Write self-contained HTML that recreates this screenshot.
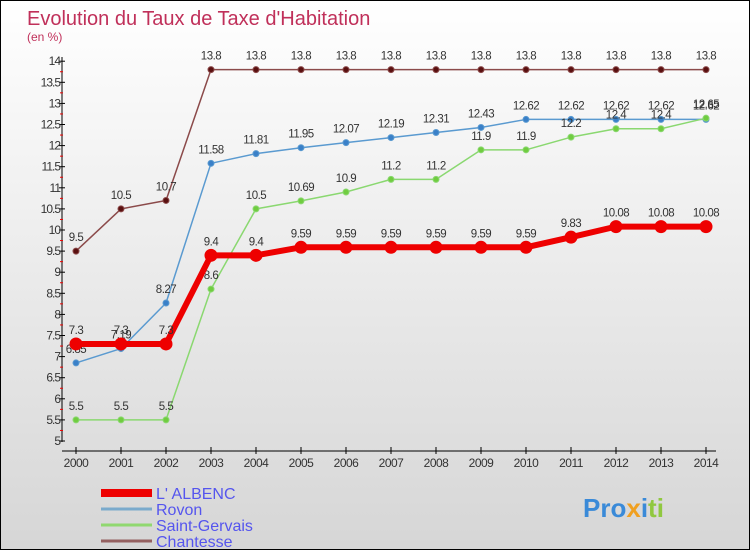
<!DOCTYPE html>
<html><head><meta charset="utf-8"><style>
body{margin:0}
#wrap{width:750px;height:550px;position:relative;box-sizing:border-box;border:1px solid #000;background:linear-gradient(#ffffff,#d6d6d6);font-family:"Liberation Sans",sans-serif;overflow:hidden}
svg{position:absolute;left:0;top:0}
</style></head><body>
<div id="wrap">
<svg id="s" width="750" height="550">
<text x="26" y="24" font-size="20" fill="#c0305a">Evolution du Taux de Taxe d'Habitation</text>
<text x="26" y="40" font-size="12" fill="#c0305a">(en %)</text>
</svg>
</div>
<script>
const years=[2000,2001,2002,2003,2004,2005,2006,2007,2008,2009,2010,2011,2012,2013,2014];
const albenc=[7.3,7.3,7.3,9.4,9.4,9.59,9.59,9.59,9.59,9.59,9.59,9.83,10.08,10.08,10.08];
const rovon=[6.85,7.19,8.27,11.58,11.81,11.95,12.07,12.19,12.31,12.43,12.62,12.62,12.62,12.62,12.62];
const gervais=[5.5,5.5,5.5,8.6,10.5,10.69,10.9,11.2,11.2,11.9,11.9,12.2,12.4,12.4,12.65];
const chantesse=[9.5,10.5,10.7,13.8,13.8,13.8,13.8,13.8,13.8,13.8,13.8,13.8,13.8,13.8,13.8];
const yTicks=[5,5.5,6,6.5,7,7.5,8,8.5,9,9.5,10,10.5,11,11.5,12,12.5,13,13.5,14];
const seriesNames=["L' ALBENC","Rovon","Saint-Gervais","Chantesse"];
const NS="http://www.w3.org/2000/svg",s=document.getElementById('s');
const xS=i=>75+i*45, yS=v=>440-(v-5)*42.2;
function mk(t,a,p){const e=document.createElementNS(NS,t);for(const k in a)e.setAttribute(k,a[k]);(p||s).appendChild(e);return e;}
let e;
e=mk('line',{x1:61,y1:56,x2:61,y2:441,stroke:'#000','stroke-width':1});


e=mk('line',{x1:61,y1:450,x2:715,y2:450,stroke:'#000','stroke-width':1});


yTicks.forEach((v,i)=>{
 mk('line',{x1:58,x2:64,y1:yS(v),y2:yS(v),stroke:'#000'});
 if(i<yTicks.length-1)mk('line',{x1:59,x2:62,y1:yS(v+0.25),y2:yS(v+0.25),stroke:'#e00'});
 e=mk('text',{x:59,y:yS(v)+4,'text-anchor':'end','font-size':12,fill:'#333','letter-spacing':'-1'});
 e.textContent=String(v);
 
 
});
years.forEach((y,i)=>{
 mk('line',{x1:xS(i),x2:xS(i),y1:446,y2:453,stroke:'#000'});
 e=mk('text',{x:xS(i),y:466,'text-anchor':'middle','font-size':12,fill:'#333','letter-spacing':'-0.5'});
 e.textContent=y;
 
 
});
function series(data,color,dot,w,r,name){
 const g=mk('g',{});
 
 
 mk('polyline',{points:data.map((v,i)=>xS(i)+','+yS(v)).join(' '),fill:'none',stroke:color,'stroke-width':w,'stroke-linejoin':'round'},g);
 data.forEach((v,i)=>{
  e=mk('circle',{cx:xS(i),cy:yS(v),r:r,fill:dot,stroke:color,'stroke-width':1},g);
  
  
  e=mk('text',{x:xS(i),y:yS(v)-10,'text-anchor':'middle','font-size':11.5,fill:'#333','letter-spacing':'-0.5'},g);
  e.textContent=String(v);
  
  
 });
}
series(chantesse,'#8b4a4a','#5a1010',1.5,3,'series-chantesse');
series(rovon,'#5a9ad0','#3a80c8',1.5,3,'series-rovon');
series(gervais,'#8ad870','#70cc40',1.5,3,'series-saint-gervais');
series(albenc,'#ee0000','#ee0000',6,6,'series-albenc');
const lc=['#ee0000','#7aaacc','#90d870','#946060'],lw=[8,3,3,3];
seriesNames.forEach((n,i)=>{
 const y=492+i*16;
 e=mk('line',{x1:100,x2:151,y1:y,y2:y,stroke:lc[i],'stroke-width':lw[i]});
 
 
 e=mk('text',{x:155,y:y+6,'font-size':16,fill:'#5555ee'});
 e.textContent=n;
 
 
});
e=mk('text',{x:582,y:516,'font-size':26,'font-weight':'bold',fill:'#f08a20'});
e.innerHTML='<tspan fill="#3a8ad8">Pro</tspan><tspan fill="#f0a020">x</tspan><tspan fill="#3a8ad8">i</tspan><tspan fill="#90c840">ti</tspan>';


</script>
</body></html>
